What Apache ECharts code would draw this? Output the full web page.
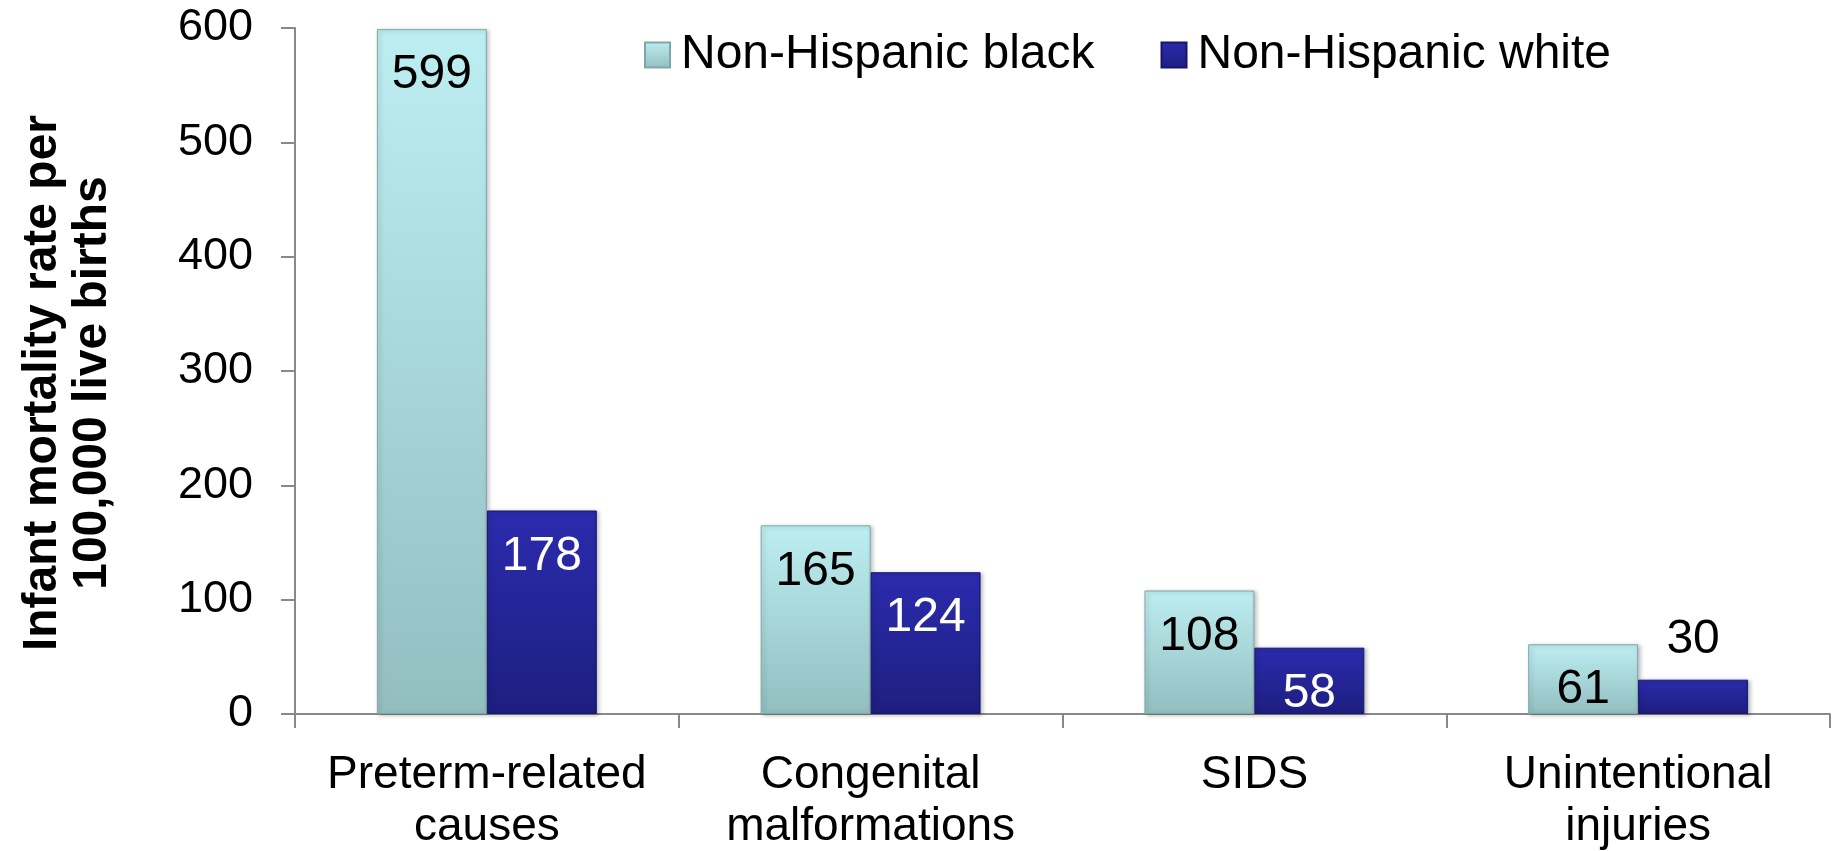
<!DOCTYPE html>
<html>
<head>
<meta charset="utf-8">
<script src="https://cdn.jsdelivr.net/npm/echarts@6/dist/echarts.min.js"></script>
<style>
html,body{margin:0;padding:0;background:#fff;}
#chart{width:1837px;height:851px;}
</style>
</head>
<body>
<div id="chart"></div>
<script>
const categories = ['Preterm-related\ncauses', 'Congenital\nmalformations', 'SIDS', 'Unintentional\ninjuries'];
const blackValues = [599, 165, 108, 61];
const whiteValues = [178, 124, 58, 30];
const seriesNames = ['Non-Hispanic black', 'Non-Hispanic white'];
const yTicks = { min: 0, max: 600, interval: 100 };
const yAxisTitle = 'Infant mortality rate per\n100,000 live births';

const FONT = '"Liberation Sans", Arial, sans-serif';
const chart = echarts.init(document.getElementById('chart'));

function grad(top, bottom) {
  return new echarts.graphic.LinearGradient(0, 0, 0, 1, [
    { offset: 0, color: top },
    { offset: 1, color: bottom }
  ]);
}

const option = {
  animation: false,
  backgroundColor: '#ffffff',
  textStyle: { fontFamily: FONT },
  grid: { left: 295, right: 7, top: 28, bottom: 137, containLabel: false, outerBoundsMode: 'none' },
  legend: {
    left: 639,
    top: 26,
    itemWidth: 25,
    itemHeight: 25,
    itemGap: 66,
    icon: 'rect',
    textStyle: { fontSize: 48, color: '#000', fontFamily: FONT, padding: [0, 0, 0, 6] },
    data: seriesNames
  },
  xAxis: {
    type: 'category',
    data: categories,
    axisLine: { lineStyle: { color: '#898989', width: 2 } },
    axisTick: { show: true, interval: 0, length: 14, lineStyle: { color: '#898989', width: 2 } },
    axisLabel: { interval: 0, margin: 35, fontSize: 46, lineHeight: 52, color: '#000', fontFamily: FONT },
    splitLine: { show: false }
  },
  yAxis: {
    type: 'value',
    min: yTicks.min,
    max: yTicks.max,
    interval: yTicks.interval,
    name: yAxisTitle,
    nameLocation: 'middle',
    nameGap: 177,
    nameTextStyle: { fontSize: 48, fontWeight: 'bold', color: '#000', lineHeight: 50, fontFamily: FONT, padding: [0, 24, 0, 0] },
    axisLine: { show: true, lineStyle: { color: '#898989', width: 2 } },
    axisTick: { show: true, length: 14, lineStyle: { color: '#898989', width: 2 } },
    axisLabel: { margin: 42, fontSize: 45, color: '#000', fontFamily: FONT },
    splitLine: { show: false }
  },
  series: [
    {
      name: seriesNames[0],
      type: 'bar',
      data: blackValues,
      barGap: '0%',
      barCategoryGap: '42.7%',
      itemStyle: {
        color: grad('#bdeef1', '#92bec0'),
        borderColor: '#7fa7a9',
        borderWidth: 1,
        shadowColor: 'rgba(0,0,0,0.25)',
        shadowBlur: 4,
        shadowOffsetX: 2,
        shadowOffsetY: 1
      },
      label: {
        show: true,
        position: 'insideTop',
        distance: 22,
        fontSize: 48,
        color: '#000',
        fontFamily: FONT
      }
    },
    {
      name: seriesNames[1],
      type: 'bar',
      data: whiteValues.map(function (v, i) {
        if (i === 3) {
          return { value: v, label: { position: 'top', color: '#000', distance: 16 } };
        }
        return v;
      }),
      barGap: '0%',
      barCategoryGap: '42.7%',
      itemStyle: {
        color: grad('#2b2bae', '#1e1e80'),
        borderColor: '#16166a',
        borderWidth: 1,
        shadowColor: 'rgba(0,0,0,0.25)',
        shadowBlur: 4,
        shadowOffsetX: 2,
        shadowOffsetY: 1
      },
      label: {
        show: true,
        position: 'insideTop',
        distance: 22,
        fontSize: 48,
        color: '#fff',
        fontFamily: FONT
      }
    }
  ]
};

chart.setOption(option);
</script>
</body>
</html>
